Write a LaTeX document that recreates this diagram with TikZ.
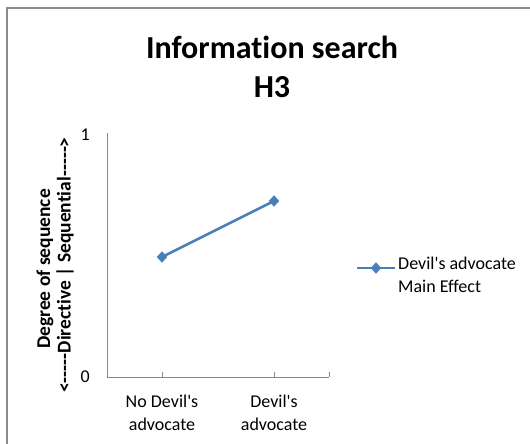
\documentclass[tikz,border=0pt]{standalone}
\usepackage{fontspec}
\setmainfont{Carlito}[Ligatures=NoCommon]
\usetikzlibrary{shapes.geometric}
\definecolor{serblue}{HTML}{4A7EBB}
\definecolor{axgray}{HTML}{868686}
\definecolor{framegray}{HTML}{8C8C8C}
\newcommand{\apo}{\textquotesingle}
\newcommand{\hy}{-{}}
\begin{document}
\begin{tikzpicture}[x=1pt,y=-1pt,
  axis/.style={draw=axgray,line width=0.9pt},
  marker/.style={diamond,fill=serblue,draw=serblue,inner sep=0pt,minimum width=10pt,minimum height=11pt},
  series/.style={draw=serblue,line width=2.6pt},
  lbl/.style={font=\fontsize{18}{23}\selectfont,align=center,inner sep=0pt},
  ytl/.style={font=\bfseries\fontsize{19.5}{24}\selectfont,rotate=90,inner sep=0pt},
  ttl/.style={font=\bfseries\fontsize{32}{38}\selectfont,inner sep=0pt,anchor=base}]
\useasboundingbox (0,0) rectangle (530,444);
\fill[white] (0,0) rectangle (530,444);
\draw[framegray,line width=1.2pt] (7,460) -- (7,8) -- (545,8);
% title
\node[ttl] (title1) at (272,59) {Information search};
\node[ttl] (title2) at (272,97) {H3};
% axes
\coordinate (o) at (107,377);
\coordinate (ytop) at (107,133);
\coordinate (xend) at (329,377);
\draw[axis] (ytop) -- (o) -- (xend);
\foreach \x in {162,274,329} \draw[axis] (\x,372) -- (\x,377);
\node[lbl,anchor=east] (y1) at (90,135) {1};
\node[lbl,anchor=east] (y0) at (90,377) {0};
\node[lbl] (c1) at (162,413) {No Devil\apo s\\advocate};
\node[lbl] (c2) at (274,413) {Devil\apo s\\advocate};
% y title
\node[ytl] (yt1) at (45,269) {Degree of sequence};
\node[ytl] (yt2) at (65,265) {<\hy\hy\hy\hy\hy Directive | Sequential\hy\hy\hy\hy\hy>};
% series
\node[marker] (p1) at (162,257) {};
\node[marker] (p2) at (274,201) {};
\draw[series] (p1.center) -- (p2.center);
% legend
\coordinate (la) at (357,268);
\coordinate (lb) at (395,268);
\node[marker] (lm) at (376,268) {};
\draw[series] (la) -- (lb);
\node[lbl,anchor=north west,align=left] (leg) at (398,257) {Devil\apo s advocate\\Main Effect};
\end{tikzpicture}
\end{document}
